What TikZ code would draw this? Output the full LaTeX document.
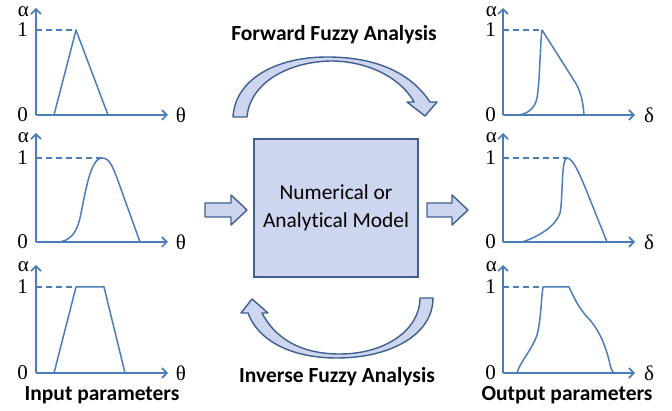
\documentclass[tikz,border=0pt]{standalone}
\usepackage{fontspec}
\setmainfont{Carlito}[Ligatures={NoCommon}]
\newfontfamily\symfont{Liberation Serif}
\usetikzlibrary{arrows.meta}
\definecolor{plotblue}{HTML}{4A7EBB}
\definecolor{edgeblue}{HTML}{3D5F8E}
\definecolor{fillblue}{HTML}{CDD6EE}
\tikzset{
  axis/.style={plotblue, line width=1.8pt, -{Straight Barb[length=5pt,width=10pt,line width=1.6pt]}},
  curve/.style={plotblue, line width=1.5pt, line join=round},
  dashline/.style={plotblue, line width=1.4pt, dash pattern=on 6pt off 4pt},
  symlabel/.style={font=\symfont\fontsize{21}{21}\selectfont, inner sep=0pt, anchor=east},
  greeklabel/.style={font=\symfont\fontsize{21}{21}\selectfont, inner sep=0pt},
  caption/.style={font=\bfseries\fontsize{21.5}{21.5}\selectfont, inner sep=0pt},
  blockarrow/.style={draw=edgeblue, fill=fillblue, line width=1.4pt, line join=round},
}
\begin{document}
\begin{tikzpicture}[x=1pt,y=-1pt]
\useasboundingbox (0,0) rectangle (672,411);

% ---------- left plots ----------
% panel 1
\coordinate (o1) at (36,115);
\draw[axis] (o1) -- (36,8);
\draw[axis] (o1) -- (168,115);
\draw[dashline] (36,30) -- (76,30);
\draw[curve] (54,115) -- (76,30) -- (108,115);
\node[symlabel] (a1) at (29,12) {α};
\node[symlabel] (i1) at (28,30) {1};
\node[symlabel] (z1) at (28,115) {0};
\node[greeklabel] (t1) at (181,115) {θ};

% panel 2
\coordinate (o2) at (36,242);
\draw[axis] (o2) -- (36,133);
\draw[axis] (o2) -- (168,242);
\draw[dashline] (36,158) -- (102,158);
\draw[curve] (57,242) .. controls (70,242) and (77,232) .. (80,218)
  .. controls (85,195) and (90,158) .. (102,158)
  .. controls (110,158) and (113,168) .. (117,178) -- (140,242);
\node[symlabel] (a2) at (29,138) {α};
\node[symlabel] (i2) at (28,158) {1};
\node[symlabel] (z2) at (28,242) {0};
\node[greeklabel] (t2) at (181,242) {θ};

% panel 3
\coordinate (o3) at (36,373);
\draw[axis] (o3) -- (36,265);
\draw[axis] (o3) -- (168,373);
\draw[dashline] (36,287) -- (76,287);
\draw[curve] (54,373) -- (76,287) -- (104,287) -- (125,373);
\node[symlabel] (a3) at (29,267) {α};
\node[symlabel] (i3) at (28,287) {1};
\node[symlabel] (z3) at (28,373) {0};
\node[greeklabel] (t3) at (181,373) {θ};
\node[caption] (inp) at (102,395) {Input parameters};

% ---------- right plots ----------
% panel 4
\coordinate (o4) at (503,115);
\draw[axis] (o4) -- (503,8);
\draw[axis] (o4) -- (635,115);
\draw[dashline] (503,30) -- (542,30);
\draw[curve] (518,115) .. controls (528,114) and (535,108) .. (537,98)
  .. controls (540,80) and (540,45) .. (542,30)
  -- (575,82) .. controls (580,90) and (583,100) .. (584,115);
\node[symlabel] (a4) at (497,12) {α};
\node[symlabel] (i4) at (496,30) {1};
\node[symlabel] (z4) at (496,115) {0};
\node[greeklabel] (d4) at (649,115) {δ};

% panel 5
\coordinate (o5) at (503,242);
\draw[axis] (o5) -- (503,133);
\draw[axis] (o5) -- (635,242);
\draw[dashline] (503,158) -- (567,158);
\draw[curve] (522,242) .. controls (535,238) and (555,228) .. (560,213)
  .. controls (563,200) and (561,158) .. (567,158)
  .. controls (573,158) and (580,175) .. (587,192) -- (607,242);
\node[symlabel] (a5) at (497,138) {α};
\node[symlabel] (i5) at (496,158) {1};
\node[symlabel] (z5) at (496,242) {0};
\node[greeklabel] (d5) at (649,242) {δ};

% panel 6
\coordinate (o6) at (503,373);
\draw[axis] (o6) -- (503,265);
\draw[axis] (o6) -- (635,373);
\draw[dashline] (503,287) -- (543,287);
\draw[curve] (517,373) .. controls (520,362) and (533,348) .. (537,335)
  .. controls (541,320) and (541,300) .. (543,287) -- (569,287)
  .. controls (575,300) and (580,310) .. (590,320)
  .. controls (600,332) and (605,345) .. (609,360)
  .. controls (610,366) and (612,372) .. (614,373);
\node[symlabel] (a6) at (497,267) {α};
\node[symlabel] (i6) at (496,287) {1};
\node[symlabel] (z6) at (496,373) {0};
\node[greeklabel] (d6) at (649,373) {δ};
\node[caption] (outp) at (567,395) {Output parameters};

% ---------- centre ----------
\node[draw=edgeblue, fill=fillblue, line width=1.4pt, minimum width=164pt,
      minimum height=138pt, inner sep=0pt, align=center,
      font=\fontsize{21.4}{27.5}\selectfont] (model) at (336,208)
      {Numerical or\\Analytical Model};

% straight block arrows
\draw[blockarrow] (205,203) -- (231,203) -- (231,195) -- (247,210) -- (231,225)
  -- (231,217) -- (205,217) -- cycle;
\draw[blockarrow] (427,203) -- (452,203) -- (452,195) -- (468,210) -- (452,225)
  -- (452,217) -- (427,217) -- cycle;

% forward curved arrow
\draw[blockarrow] (233,117) -- (247,117)
  .. controls (250,82) and (290,61) .. (333,61)
  .. controls (372,62) and (402,80) .. (414,102)
  -- (407,102) -- (425,116) -- (437,102) -- (430,102)
  .. controls (410,72) and (375,57) .. (327,57)
  .. controls (275,57) and (235,80) .. (233,117) -- cycle;
\node[caption] (fwd) at (334,35) {Forward Fuzzy Analysis};

% inverse curved arrow
\draw[blockarrow] (420,298) -- (433,298)
  .. controls (433,335) and (390,358) .. (337,358)
  .. controls (290,358) and (258,340) .. (248,313)
  -- (241,313) -- (252,299) -- (268,313) -- (262,313)
  .. controls (275,338) and (300,354) .. (340,354)
  .. controls (385,354) and (420,330) .. (420,298) -- cycle;
\node[caption] (inv) at (337,377) {Inverse Fuzzy Analysis};
\end{tikzpicture}
\end{document}
